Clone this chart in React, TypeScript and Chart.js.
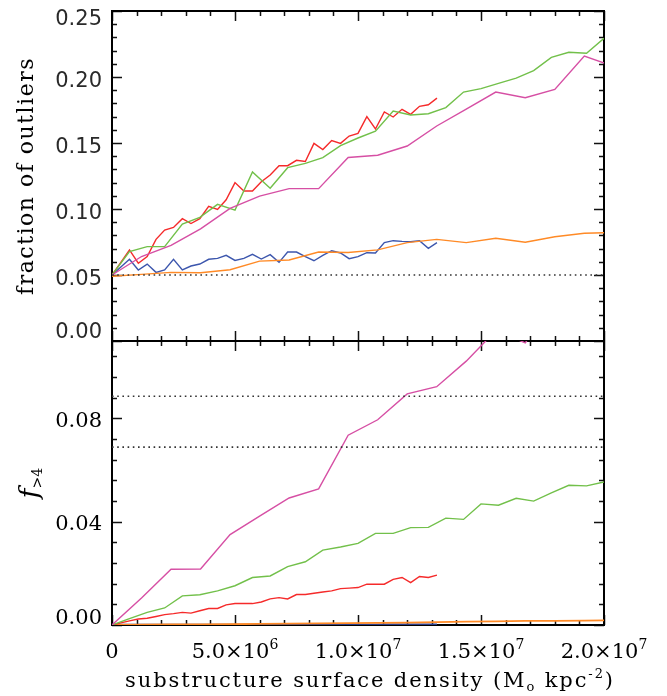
import React, { useEffect, useRef } from 'react';
import { Chart, registerables } from 'chart.js';

Chart.register(...registerables);

// x positions (units of 10^6 M_sun kpc^-2)
const xFine = [0, 0.36, 0.71, 1.07, 1.43, 1.79, 2.14, 2.5, 2.86, 3.21, 3.57, 3.93, 4.29, 4.64, 5.0, 5.36, 5.71, 6.07, 6.43, 6.79, 7.14, 7.5, 7.86, 8.21, 8.57, 8.93, 9.29, 9.64, 10.0, 10.36, 10.71, 11.07, 11.43, 11.79, 12.14, 12.5, 12.86, 13.21];
const xMid = [0, 0.71, 1.43, 2.14, 2.86, 3.57, 4.29, 5.0, 5.71, 6.43, 7.14, 7.86, 8.57, 9.29, 10.0, 10.71, 11.43, 12.14, 12.86, 13.57, 14.29, 15.0, 15.71, 16.43, 17.14, 17.86, 18.57, 19.29, 20.0];
const xCoarse = [0, 1.2, 2.4, 3.6, 4.8, 6.0, 7.2, 8.4, 9.6, 10.8, 12.0, 13.2, 14.4, 15.6, 16.8, 18.0, 19.2, 20.4];

// top panel: fraction of outliers
const topRed = [0.05, 0.0595, 0.069, 0.0589, 0.064, 0.077, 0.084, 0.086, 0.0927, 0.089, 0.0927, 0.102, 0.0997, 0.107, 0.12, 0.1136, 0.1136, 0.1207, 0.1258, 0.1328, 0.1328, 0.1369, 0.136, 0.1497, 0.145, 0.1518, 0.1497, 0.1553, 0.1573, 0.170, 0.1606, 0.1735, 0.1697, 0.1755, 0.1717, 0.1778, 0.179, 0.184];
const topBlue = [0.05, 0.056, 0.0619, 0.0538, 0.0583, 0.052, 0.0538, 0.0619, 0.0538, 0.0568, 0.0583, 0.0619, 0.0626, 0.0649, 0.061, 0.0626, 0.0657, 0.0621, 0.0654, 0.0596, 0.0674, 0.0674, 0.0639, 0.0608, 0.0649, 0.0684, 0.0667, 0.0624, 0.0639, 0.0669, 0.0667, 0.0745, 0.076, 0.0755, 0.0752, 0.076, 0.0702, 0.0745];
const topGreen = [0.05, 0.0677, 0.0715, 0.0715, 0.0886, 0.0937, 0.1035, 0.0992, 0.128, 0.1157, 0.1313, 0.1346, 0.1389, 0.148, 0.1538, 0.159, 0.1742, 0.1712, 0.1722, 0.1768, 0.1886, 0.1912, 0.1952, 0.1992, 0.2048, 0.2149, 0.2187, 0.218, 0.2293];
const topMagenta = [0.05, 0.064, 0.0725, 0.085, 0.1005, 0.1098, 0.1154, 0.1154, 0.139, 0.1407, 0.1477, 0.1629, 0.1757, 0.1886, 0.1843, 0.1906, 0.2159, 0.208];
const topOrange = [0.049, 0.0505, 0.052, 0.0517, 0.054, 0.0605, 0.0614, 0.0674, 0.067, 0.069, 0.0745, 0.077, 0.0745, 0.0778, 0.0748, 0.079, 0.0816, 0.0822];
const topRefLevels = [0.05];

// bottom panel: f_{>4}
const botRed = [0, 0.0008, 0.0016, 0.0023, 0.0026, 0.0033, 0.004, 0.0044, 0.0049, 0.0046, 0.0055, 0.0064, 0.0064, 0.0078, 0.0083, 0.0083, 0.0083, 0.0089, 0.0101, 0.0106, 0.0101, 0.0118, 0.0118, 0.0123, 0.0128, 0.0132, 0.0141, 0.0143, 0.0145, 0.0158, 0.0158, 0.0158, 0.0177, 0.0184, 0.0164, 0.0188, 0.0184, 0.0193];
const botBlue = [0, 0, 0, 0, 0, 0, 0, 0, 0, 0, 0, 0, 0, 0, 0, 0, 0, 0, 0, 0, 0, 0, 0, 0, 0, 0, 0, 0, 0, 0, 0, 0.0001, 0.0001, 0.0001, 0.0001, 0.0001, 0.0001, 0.0001];
const botGreen = [0, 0.0025, 0.0049, 0.0066, 0.0113, 0.0117, 0.0132, 0.0152, 0.0184, 0.019, 0.0226, 0.0245, 0.029, 0.0302, 0.0316, 0.0355, 0.0355, 0.0377, 0.0378, 0.0414, 0.0409, 0.0469, 0.0464, 0.0491, 0.048, 0.0512, 0.0541, 0.0539, 0.0554];
const botMagenta = [0, 0.0105, 0.0216, 0.0217, 0.035, 0.0422, 0.0492, 0.0527, 0.0735, 0.0795, 0.0895, 0.0923, 0.1022, 0.114, 0.1093, 0.125, 0.14, 0.14];
const botOrange = [0, 0.0001, 0.0002, 0.0002, 0.0003, 0.0004, 0.0005, 0.0006, 0.0007, 0.0008, 0.0009, 0.0011, 0.0013, 0.0014, 0.0016, 0.0016, 0.0017, 0.0018];
const botRefLevels = [0.0886, 0.0689];

// axes
const xRange = [0, 20];
const topRange = [0, 0.25];
const botRange = [0, 0.11];
const xTickValues = [0, 5, 10, 15, 20];
const xTickBase = ['0', '5.0×10', '1.0×10', '1.5×10', '2.0×10'];
const xTickExp = ['', '6', '7', '7', '7'];
const topTickValues = [0, 0.05, 0.1, 0.15, 0.2, 0.25];
const topTickLabels = ['0.00', '0.05', '0.10', '0.15', '0.20', '0.25'];
const botTickValues = [0, 0.04, 0.08];
const botTickLabels = ['0.00', '0.04', '0.08'];

const COL = {
  red: '#f52a2a',
  green: '#72c04a',
  magenta: '#d64fa4',
  blue: '#3c56ad',
  orange: '#ff8a26',
};

const pts = (xs: number[], ys: number[]) => xs.map((x, i) => ({ x, y: ys[i] }));

const SERIF = "'DejaVu Serif', serif";
const SANS = "'DejaVu Sans', sans-serif";

function drawRuns(ctx: CanvasRenderingContext2D, runs: { t: string; font: string; dy: number }[], cx: number, cy: number, spacing: number) {
  let total = 0;
  const widths = runs.map((r) => {
    ctx.font = r.font;
    (ctx as any).letterSpacing = spacing + 'px';
    const w = ctx.measureText(r.t).width;
    total += w;
    return w;
  });
  let x = cx - total / 2;
  ctx.textAlign = 'left';
  ctx.textBaseline = 'alphabetic';
  runs.forEach((r, i) => {
    ctx.font = r.font;
    (ctx as any).letterSpacing = spacing + 'px';
    ctx.fillText(r.t, x, cy + r.dy);
    x += widths[i];
  });
  (ctx as any).letterSpacing = '0px';
}

const panelPlugin = {
  id: 'panelPlugin',
  beforeDatasetsDraw(chart: any) {
    const ctx: CanvasRenderingContext2D = chart.ctx;
    const a = chart.chartArea;
    const xs = chart.scales.x;
    const yt = chart.scales.yTop;
    const yb = chart.scales.yBot;
    ctx.save();
    ctx.strokeStyle = '#111';
    ctx.lineWidth = 1.5;
    ctx.beginPath();
    // x ticks on each horizontal border (minor every 1e6, major every 5e6)
    for (let i = 0; i <= 20; i++) {
      const px = Math.round(xs.getPixelForValue(i)) + 0.5;
      const len = i % 5 === 0 ? 10 : 5;
      ctx.moveTo(px, yt.top); ctx.lineTo(px, yt.top + len);
      ctx.moveTo(px, yt.bottom); ctx.lineTo(px, yt.bottom - len);
      ctx.moveTo(px, yb.top); ctx.lineTo(px, yb.top + len);
      ctx.moveTo(px, yb.bottom); ctx.lineTo(px, yb.bottom - len);
    }
    // top panel y ticks (minor 0.01, major 0.05)
    for (let i = 0; i <= 25; i++) {
      const py = Math.round(yt.getPixelForValue(i * 0.01)) + 0.5;
      const len = i % 5 === 0 ? 10 : 5;
      ctx.moveTo(a.left, py); ctx.lineTo(a.left + len, py);
      ctx.moveTo(a.right, py); ctx.lineTo(a.right - len, py);
    }
    // bottom panel y ticks (minor 0.008, major 0.04)
    for (let i = 0; i * 0.008 <= 0.11; i++) {
      const py = Math.round(yb.getPixelForValue(i * 0.008)) + 0.5;
      const len = i % 5 === 0 ? 10 : 5;
      ctx.moveTo(a.left, py); ctx.lineTo(a.left + len, py);
      ctx.moveTo(a.right, py); ctx.lineTo(a.right - len, py);
    }
    ctx.stroke();

    // borders
    ctx.lineWidth = 2;
    ctx.strokeStyle = '#000';
    ctx.strokeRect(a.left, yt.top, a.right - a.left, yt.bottom - yt.top);
    ctx.strokeRect(a.left, yb.top, a.right - a.left, yb.bottom - yb.top);
    ctx.restore();
  },
  beforeDatasetDraw(chart: any, args: any) {
    const ys = chart.scales[args.meta.yAxisID];
    const a = chart.chartArea;
    const ctx = chart.ctx;
    ctx.save();
    ctx.beginPath();
    ctx.rect(a.left - 1, ys.top - 1, a.right - a.left + 2, ys.bottom - ys.top + 2);
    ctx.clip();
  },
  afterDatasetDraw(chart: any) {
    chart.ctx.restore();
  },
  afterDraw(chart: any) {
    const ctx: CanvasRenderingContext2D = chart.ctx;
    const a = chart.chartArea;
    const xs = chart.scales.x;
    const yt = chart.scales.yTop;
    const yb = chart.scales.yBot;
    ctx.save();

    // y tick labels
    ctx.textAlign = 'right';
    ctx.textBaseline = 'middle';
    ctx.fillStyle = '#2a2a2a';
    ctx.font = `21px ${SANS}`;
    topTickValues.forEach((v, i) => {
      const py = yt.getPixelForValue(v);
      const y = Math.min(Math.max(py + 5, yt.top + 9), yt.bottom - 8);
      ctx.fillText(topTickLabels[i], a.left - 10, y);
    });
    ctx.fillStyle = '#000';
    ctx.font = `21px ${SERIF}`;
    botTickValues.forEach((v, i) => {
      const py = yb.getPixelForValue(v);
      const y = Math.min(Math.max(py + 3, yb.top + 9), yb.bottom - 6);
      ctx.fillText(botTickLabels[i], a.left - 10, y);
    });

    // x tick labels
    xTickValues.forEach((v, i) => {
      const px = xs.getPixelForValue(v);
      const runs = [{ t: xTickBase[i], font: `21px ${SERIF}`, dy: 0 }];
      if (xTickExp[i]) runs.push({ t: xTickExp[i], font: `14px ${SERIF}`, dy: -9 });
      drawRuns(ctx, runs, px, 658, 0);
    });

    // x title
    drawRuns(
      ctx,
      [
        { t: 'substructure surface density (M', font: `21px ${SERIF}`, dy: 0 },
        { t: 'o', font: `13px ${SERIF}`, dy: 4 },
        { t: ' kpc', font: `21px ${SERIF}`, dy: 0 },
        { t: '-2', font: `13px ${SERIF}`, dy: -9 },
        { t: ')', font: `21px ${SERIF}`, dy: 0 },
      ],
      370,
      687,
      1.9
    );

    // y titles
    ctx.save();
    ctx.translate(33, (yt.top + yt.bottom) / 2);
    ctx.rotate(-Math.PI / 2);
    drawRuns(ctx, [{ t: 'fraction of outliers', font: `22px ${SERIF}`, dy: 0 }], 0, 0, 1.5);
    ctx.restore();

    ctx.save();
    ctx.translate(38, (yb.top + yb.bottom) / 2);
    ctx.rotate(-Math.PI / 2);
    drawRuns(
      ctx,
      [
        { t: 'f', font: `italic 26px ${SERIF}`, dy: 0 },
        { t: '>4', font: `14px ${SERIF}`, dy: 4 },
      ],
      0,
      0,
      0
    );
    ctx.restore();
    ctx.restore();
  },
};

export default function App() {
  const ref = useRef<HTMLCanvasElement | null>(null);

  useEffect(() => {
    if (!ref.current) return;
    const line = (label: string, data: any[], color: string, yAxisID: string, width = 1.4) => ({
      label,
      data,
      yAxisID,
      borderColor: color,
      backgroundColor: color,
      borderWidth: width,
      pointRadius: 0,
      tension: 0,
      fill: false,
    });
    const dotted = (level: number, yAxisID: string) => ({
      label: 'ref',
      data: [
        { x: xRange[0], y: level },
        { x: xRange[1], y: level },
      ],
      yAxisID,
      borderColor: '#333',
      borderWidth: 1.6,
      borderDash: [1.6, 3.6],
      pointRadius: 0,
      fill: false,
    });

    const chart = new Chart(ref.current, {
      type: 'line',
      data: {
        datasets: [
          ...topRefLevels.map((l) => dotted(l, 'yTop')),
          ...botRefLevels.map((l) => dotted(l, 'yBot')),
          line('magenta', pts(xCoarse, topMagenta), COL.magenta, 'yTop'),
          line('green', pts(xMid, topGreen), COL.green, 'yTop'),
          line('red', pts(xFine, topRed), COL.red, 'yTop'),
          line('orange', pts(xCoarse, topOrange), COL.orange, 'yTop'),
          line('blue', pts(xFine, topBlue), COL.blue, 'yTop'),
          line('magenta', pts(xCoarse, botMagenta), COL.magenta, 'yBot'),
          line('green', pts(xMid, botGreen), COL.green, 'yBot'),
          line('red', pts(xFine, botRed), COL.red, 'yBot'),
          line('orange', pts(xCoarse, botOrange), COL.orange, 'yBot', 1.8),
          line('blue', pts(xFine, botBlue), '#2c3f8c', 'yBot', 2.6),
        ],
      },
      options: {
        responsive: false,
        animation: false,
        devicePixelRatio: 1,
        layout: { padding: { left: 0, right: 63, top: 11, bottom: 0 } },
        plugins: { legend: { display: false }, tooltip: { enabled: false }, title: { display: false } },
        scales: {
          x: {
            type: 'linear',
            position: 'bottom',
            min: xRange[0],
            max: xRange[1],
            grid: { display: false },
            border: { display: false },
            ticks: { display: false },
            afterFit: (s: any) => {
              s.height = 71;
            },
          },
          yTop: {
            type: 'linear',
            position: 'left',
            stack: 'panels',
            stackWeight: 330,
            weight: 2,
            min: topRange[0],
            max: topRange[1],
            grid: { display: false },
            border: { display: false },
            ticks: { display: false },
            afterFit: (s: any) => {
              s.width = 112;
            },
          },
          yBot: {
            type: 'linear',
            position: 'left',
            stack: 'panels',
            stackWeight: 284,
            weight: 1,
            min: botRange[0],
            max: botRange[1],
            grid: { display: false },
            border: { display: false },
            ticks: { display: false },
            afterFit: (s: any) => {
              s.width = 112;
            },
          },
        },
      } as any,
      plugins: [panelPlugin as any],
    });
    return () => chart.destroy();
  }, []);

  return (
    <div style={{ position: 'fixed', left: 0, top: 0, width: 667, height: 696, background: '#fff' }}>
      <canvas ref={ref} width={667} height={696} style={{ display: 'block', width: 667, height: 696 }} />
    </div>
  );
}
